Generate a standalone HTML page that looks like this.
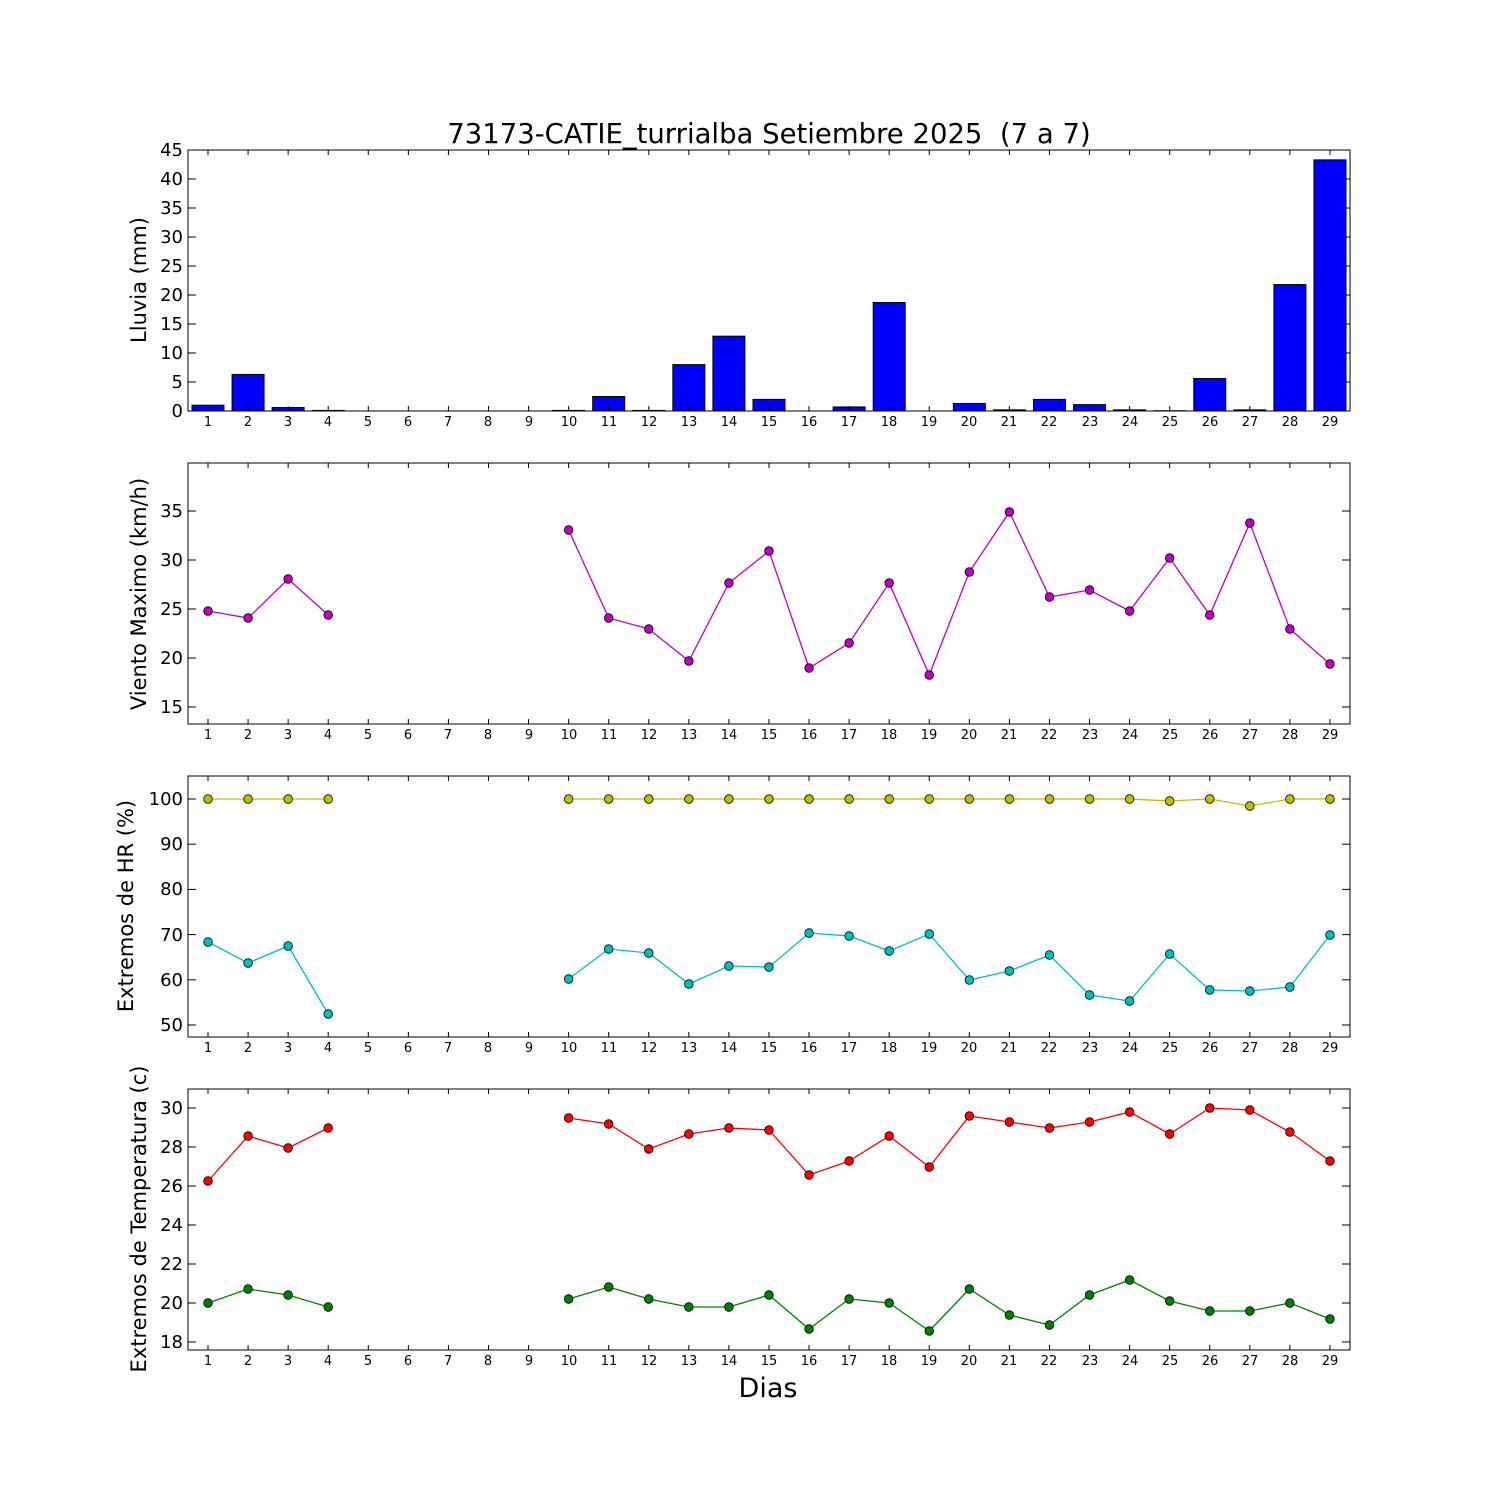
<!DOCTYPE html>
<html><head><meta charset="utf-8"><style>
body{margin:0;background:#fff}
svg text{font-family:"DejaVu Sans","Liberation Sans",sans-serif;fill:#000;white-space:pre}
</style></head><body>
<svg id="s" width="1500" height="1500" xmlns="http://www.w3.org/2000/svg">
<rect width="1500" height="1500" fill="#fff"/>
<g id="g"></g>
<text x="769" y="143" font-size="27.5" text-anchor="middle" xml:space="preserve">73173-CATIE_turrialba Setiembre 2025  (7 a 7)</text>
<text x="768" y="1397" font-size="27" text-anchor="middle">Dias</text>
<text transform="translate(146,280) rotate(-90)" font-size="21" text-anchor="middle">Lluvia (mm)</text>
<text transform="translate(146,594) rotate(-90)" font-size="21" text-anchor="middle">Viento Maximo (km/h)</text>
<text transform="translate(133,906) rotate(-90)" font-size="21" text-anchor="middle">Extremos de HR (%)</text>
<text transform="translate(146,1219) rotate(-90)" font-size="21" text-anchor="middle">Extremos de Temperatura (c)</text>
<g font-size="18" text-anchor="end">
<text x="183" y="417">0</text><text x="183" y="388">5</text><text x="183" y="359">10</text><text x="183" y="330">15</text><text x="183" y="301">20</text><text x="183" y="272">25</text><text x="183" y="243">30</text><text x="183" y="214">35</text><text x="183" y="185">40</text><text x="183" y="156">45</text>
<text x="183" y="713">15</text><text x="183" y="664">20</text><text x="183" y="615">25</text><text x="183" y="566">30</text><text x="183" y="517">35</text>
<text x="183" y="1031">50</text><text x="183" y="986">60</text><text x="183" y="941">70</text><text x="183" y="895">80</text><text x="183" y="850">90</text><text x="183" y="805">100</text>
<text x="183" y="1348">18</text><text x="183" y="1309">20</text><text x="183" y="1270">22</text><text x="183" y="1231">24</text><text x="183" y="1192">26</text><text x="183" y="1153">28</text><text x="183" y="1114">30</text>
</g>
<g font-size="13" text-anchor="middle">
<text x="208" y="426">1</text><text x="248" y="426">2</text><text x="288" y="426">3</text><text x="328" y="426">4</text><text x="368" y="426">5</text><text x="408" y="426">6</text><text x="448" y="426">7</text><text x="488" y="426">8</text><text x="529" y="426">9</text><text x="569" y="426">10</text><text x="609" y="426">11</text><text x="649" y="426">12</text><text x="689" y="426">13</text><text x="729" y="426">14</text><text x="769" y="426">15</text><text x="809" y="426">16</text><text x="849" y="426">17</text><text x="889" y="426">18</text><text x="929" y="426">19</text><text x="969" y="426">20</text><text x="1009" y="426">21</text><text x="1049" y="426">22</text><text x="1090" y="426">23</text><text x="1130" y="426">24</text><text x="1170" y="426">25</text><text x="1210" y="426">26</text><text x="1250" y="426">27</text><text x="1290" y="426">28</text><text x="1330" y="426">29</text>
</g>
<g font-size="13" text-anchor="middle" transform="translate(0,313)">
<text x="208" y="426">1</text><text x="248" y="426">2</text><text x="288" y="426">3</text><text x="328" y="426">4</text><text x="368" y="426">5</text><text x="408" y="426">6</text><text x="448" y="426">7</text><text x="488" y="426">8</text><text x="529" y="426">9</text><text x="569" y="426">10</text><text x="609" y="426">11</text><text x="649" y="426">12</text><text x="689" y="426">13</text><text x="729" y="426">14</text><text x="769" y="426">15</text><text x="809" y="426">16</text><text x="849" y="426">17</text><text x="889" y="426">18</text><text x="929" y="426">19</text><text x="969" y="426">20</text><text x="1009" y="426">21</text><text x="1049" y="426">22</text><text x="1090" y="426">23</text><text x="1130" y="426">24</text><text x="1170" y="426">25</text><text x="1210" y="426">26</text><text x="1250" y="426">27</text><text x="1290" y="426">28</text><text x="1330" y="426">29</text>
</g>
<g font-size="13" text-anchor="middle" transform="translate(0,626)">
<text x="208" y="426">1</text><text x="248" y="426">2</text><text x="288" y="426">3</text><text x="328" y="426">4</text><text x="368" y="426">5</text><text x="408" y="426">6</text><text x="448" y="426">7</text><text x="488" y="426">8</text><text x="529" y="426">9</text><text x="569" y="426">10</text><text x="609" y="426">11</text><text x="649" y="426">12</text><text x="689" y="426">13</text><text x="729" y="426">14</text><text x="769" y="426">15</text><text x="809" y="426">16</text><text x="849" y="426">17</text><text x="889" y="426">18</text><text x="929" y="426">19</text><text x="969" y="426">20</text><text x="1009" y="426">21</text><text x="1049" y="426">22</text><text x="1090" y="426">23</text><text x="1130" y="426">24</text><text x="1170" y="426">25</text><text x="1210" y="426">26</text><text x="1250" y="426">27</text><text x="1290" y="426">28</text><text x="1330" y="426">29</text>
</g>
<g font-size="13" text-anchor="middle" transform="translate(0,939)">
<text x="208" y="426">1</text><text x="248" y="426">2</text><text x="288" y="426">3</text><text x="328" y="426">4</text><text x="368" y="426">5</text><text x="408" y="426">6</text><text x="448" y="426">7</text><text x="488" y="426">8</text><text x="529" y="426">9</text><text x="569" y="426">10</text><text x="609" y="426">11</text><text x="649" y="426">12</text><text x="689" y="426">13</text><text x="729" y="426">14</text><text x="769" y="426">15</text><text x="809" y="426">16</text><text x="849" y="426">17</text><text x="889" y="426">18</text><text x="929" y="426">19</text><text x="969" y="426">20</text><text x="1009" y="426">21</text><text x="1049" y="426">22</text><text x="1090" y="426">23</text><text x="1130" y="426">24</text><text x="1170" y="426">25</text><text x="1210" y="426">26</text><text x="1250" y="426">27</text><text x="1290" y="426">28</text><text x="1330" y="426">29</text>
</g>
</svg>
<script>
var g=document.getElementById('g'),o='';
function X(d){return 208+(d-1)*40.07;}
var panels=[[150,411],[463,724],[776,1037],[1089,1350]];
var rain={1:1.0,2:6.3,3:0.6,4:0.1,10:0.1,11:2.5,12:0.1,13:8.0,14:12.9,15:2.0,17:0.7,18:18.7,20:1.3,21:0.2,22:2.0,23:1.1,24:0.2,25:0.05,26:5.6,27:0.2,28:21.8,29:43.3};
for(var d in rain){var h=rain[d]*5.8;o+='<rect x="'+(X(+d)-16)+'" y="'+(411-h)+'" width="32" height="'+h+'" fill="#0000ff" stroke="#000" stroke-width="1"/>';}
function series(ys,col){var segs=[[],[]];for(var i=0;i<ys.length;i++){var d=i<4?i+1:i+6;(i<4?segs[0]:segs[1]).push(X(d)+','+ys[i]);}
segs.forEach(function(s){o+='<polyline points="'+s.join(' ')+'" fill="none" stroke="'+col+'" stroke-width="1.3"/>';});
for(var i=0;i<ys.length;i++){var d=i<4?i+1:i+6;o+='<circle cx="'+X(d)+'" cy="'+ys[i]+'" r="4.3" fill="'+col+'" stroke="#000" stroke-width="0.8"/>';}}
series([611,618,579,615,530,618,629,661,583,551,668,643,583,675,572,512,597,590,611,558,615,523,629,664],'#bf00bf');
series([799,799,799,799,799,799,799,799,799,799,799,799,799,799,799,799,799,799,799,801,799,806,799,799],'#bfbf00');
series([942,963,946,1014,979,949,953,984,966,967,933,936,951,934,980,971,955,995,1001,954,990,991,987,935],'#00bfbf');
series([1181,1136,1148,1128,1118,1124,1149,1134,1128,1130,1175,1161,1136,1167,1116,1122,1128,1122,1112,1134,1108,1110,1132,1161],'#ff0000');
series([1303,1289,1295,1307,1299,1287,1299,1307,1307,1295,1329,1299,1303,1331,1289,1315,1325,1295,1280,1301,1311,1311,1303,1319],'#008000');
var yt=[[0,5,10,15,20,25,30,35,40,45].map(function(v){return 411-v*5.8}),
[15,20,25,30,35].map(function(v){return 707-(v-15)*9.8}),
[50,60,70,80,90,100].map(function(v){return 1025-(v-50)*4.52}),
[18,20,22,24,26,28,30].map(function(v){return 1342-(v-18)*19.5})];
panels.forEach(function(p,k){
o+='<rect x="188" y="'+p[0]+'" width="1162" height="'+(p[1]-p[0])+'" fill="none" stroke="#000" stroke-width="1"/>';
for(var d=1;d<=29;d++){var x=X(d);o+='<line x1="'+x+'" x2="'+x+'" y1="'+p[1]+'" y2="'+(p[1]-5)+'" stroke="#000"/><line x1="'+x+'" x2="'+x+'" y1="'+p[0]+'" y2="'+(p[0]+5)+'" stroke="#000"/>';}
yt[k].forEach(function(y){o+='<line x1="188" x2="196" y1="'+y+'" y2="'+y+'" stroke="#000"/><line x1="1342" x2="1350" y1="'+y+'" y2="'+y+'" stroke="#000"/>';});
});
g.innerHTML=o;
</script>
</body></html>
